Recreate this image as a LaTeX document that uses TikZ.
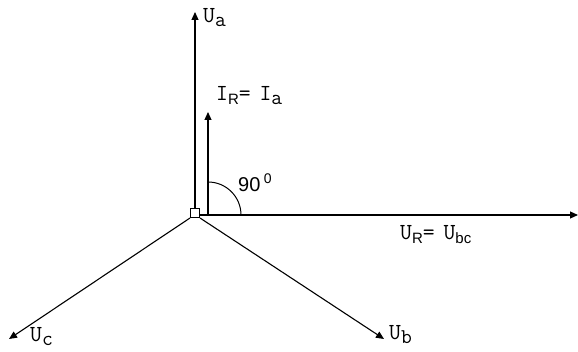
\documentclass[tikz,border=0pt]{standalone}
\usepackage{fontspec}
\newfontfamily\subsans{Liberation Sans}
\usetikzlibrary{arrows.meta}
\begin{document}
\begin{tikzpicture}[x=1pt,y=-1pt,
  vec/.style={line width=1.1pt,-{Triangle[length=8pt,width=7pt]}},
  lbl/.style={font=\ttfamily\fontsize{23}{23}\selectfont,inner sep=0pt,anchor=west},
]
\useasboundingbox (0,0) rectangle (578,352);
\newcommand{\ssub}[1]{\raisebox{-4pt}{\subsans\fontsize{15}{15}\selectfont #1}}
\newcommand{\msub}[1]{\raisebox{-4pt}{\fontsize{21}{21}\selectfont #1}}
\node[draw,line width=1pt,minimum size=9pt,inner sep=0pt] (o) at (195,213) {};
\coordinate (h0) at (200,215);
\coordinate (r0) at (208,215);
\coordinate (ua) at (195,12);
\coordinate (ir) at (208,112);
\coordinate (ur) at (578,215);
\coordinate (uc) at (9,339);
\coordinate (ub) at (384,339);
\draw[vec] (o.north) -- (ua);
\draw[vec] (r0) -- (ir);
\draw[vec] (h0) -- (ur);
\draw[vec] (o.south west) -- (uc);
\draw[vec] (o.south east) -- (ub);
\draw[line width=1pt] (241,215) arc[start angle=0,end angle=-90,radius=33];
\node[lbl] (tua) at (203,18) {U\msub{a}};
\node[lbl] (tir) at (216,96) {I\ssub{R}=\kern-3pt~I\msub{a}};
\node[lbl,font=\subsans\fontsize{20}{20}\selectfont] (t90) at (238,183) {90\,\raisebox{8pt}{\fontsize{14}{14}\selectfont 0}};
\node[lbl] (tur) at (400,235) {U\ssub{R}=\kern-3pt~U\ssub{bc}};
\node[lbl] (tuc) at (30,337) {U\msub{c}};
\node[lbl] (tub) at (389,335) {U\msub{b}};
\end{tikzpicture}
\end{document}
